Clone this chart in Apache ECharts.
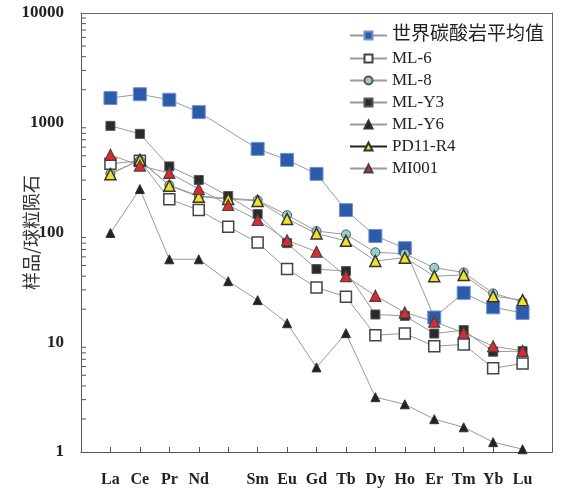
<!DOCTYPE html>
<html>
<head>
    <meta charset="UTF-8">
    <title>稀土元素配分图</title>
    <script src="https://cdn.jsdelivr.net/npm/echarts@6/dist/echarts.min.js"></script>
    <style>
        body { margin: 0; background: #fff; }
        #chart { width: 563px; height: 488px; }
    </style>
</head>
<body>
    <div id="chart"></div>
    <script>
    // 横轴元素（Pm 位置不标注）
    const axisLabels = ['La', 'Ce', 'Pr', 'Nd', '', 'Sm', 'Eu', 'Gd', 'Tb', 'Dy', 'Ho', 'Er', 'Tm', 'Yb', 'Lu'];
    const yTicks = [1, 10, 100, 1000, 10000];

    // 球粒陨石标准化值
    const worldAvg = [1680, 1820, 1620, 1250, null, 578, 459, 342, 160, 93, 72, 16.8, 28.2, 20.8, 18.5];
    const ml6   = [422, 450, 201, 160, 113, 81, 46.4, 31.6, 26, 11.6, 12.0, 9.2, 9.55, 5.8, 6.4];
    const ml8   = [345, 455, 270, 215, 205, 197, 144, 103, 96, 66, 64, 47.7, 43.3, 27.9, 23.4];
    const mlY3  = [937, 792, 400, 301, 215, 147, 80, 46.4, 44.5, 17.9, 17.4, 12.0, 12.9, 8.2, 8.3];
    const mlY6  = [99, 249, 57, 57, 36, 24.2, 14.9, 5.9, 12.1, 3.16, 2.72, 1.99, 1.68, 1.23, 1.06];
    const pd11  = [340, 459, 267, 212, 202, 194, 133, 98, 84, 55, 59, 40, 41, 26.3, 24.2];
    const mi001 = [510, 407, 349, 249, 178, 130, 85, 66.8, 40, 26.5, 18.7, 15.4, 12.2, 9.2, 8.35];

    const serif = "'Liberation Serif', 'DejaVu Serif', 'Noto Sans CJK SC', serif";
    const pad = arr => [null].concat(arr, [null]);

    function mkSeries(name, data, symbol, size, fill, border, bw) {
        return {
            name: name,
            type: 'line',
            data: pad(data),
            connectNulls: true,
            symbol: symbol,
            symbolSize: size,
            lineStyle: { color: '#9a9a9a', width: 1 },
            itemStyle: { color: fill, borderColor: border, borderWidth: bw },
            emphasis: { disabled: true },
            animation: false
        };
    }

    const chart = echarts.init(document.getElementById('chart'));
    const option = {
        backgroundColor: '#fff',
        animation: false,
        grid: { left: 81, right: 11, top: 13, bottom: 36, outerBoundsMode: 'none', containLabel: false },
        legend: {
            orient: 'vertical',
            left: 344,
            top: 21,
            itemWidth: 37,
            itemHeight: 10,
            itemGap: 5,
            textStyle: { fontFamily: serif, fontSize: 17, color: '#222' },
            data: [
                { name: '世界碳酸岩平均值', textStyle: { fontSize: 19 } },
                'ML-6', 'ML-8', 'ML-Y3', 'ML-Y6',
                { name: 'PD11-R4', lineStyle: { color: '#222', width: 2 } },
                'MI001'
            ]
        },
        xAxis: [{
            type: 'category',
            boundaryGap: false,
            data: pad(axisLabels).map(v => v === null ? '' : v),
            axisLine: { lineStyle: { color: '#555' } },
            axisTick: { inside: true, length: 5, interval: 0, lineStyle: { color: '#555' } },
            axisLabel: { interval: 0, margin: 20, fontFamily: serif, fontSize: 16, fontWeight: 'bold', color: '#222' },
            splitLine: { show: false }
        }, {
            // 上边框
            type: 'category',
            position: 'top',
            boundaryGap: false,
            data: pad(axisLabels).map(v => v === null ? '' : v),
            axisLine: { show: true, onZero: false, lineStyle: { color: '#666' } },
            axisTick: { show: false },
            axisLabel: { show: false }
        }],
        yAxis: [{
            type: 'log',
            logBase: 10,
            min: yTicks[0],
            max: yTicks[yTicks.length - 1],
            name: '样品/球粒陨石',
            nameLocation: 'middle',
            nameGap: 41,
            nameMoveOverlap: false,
            nameRotate: 90,
            nameTextStyle: { fontFamily: "'Noto Sans CJK SC'", fontSize: 18, color: '#333' },
            axisLine: { show: true, lineStyle: { color: '#555' } },
            axisTick: { inside: true, length: 7, lineStyle: { color: '#555' } },
            axisLabel: { margin: 17, fontFamily: serif, fontSize: 17, fontWeight: 'bold', color: '#222',
                formatter: v => String(v) },
            splitLine: { show: false }
        }, {
            // 右边框
            type: 'log',
            logBase: 10,
            position: 'right',
            min: yTicks[0],
            max: yTicks[yTicks.length - 1],
            axisLine: { show: true, onZero: false, lineStyle: { color: '#666' } },
            axisTick: { show: false },
            axisLabel: { show: false },
            splitLine: { show: false }
        }],
        series: [
            mkSeries('世界碳酸岩平均值', worldAvg, 'rect', 13, '#2c5bab', '#6f93d0', 1),
            mkSeries('ML-6', ml6, 'rect', 11, '#ffffff', '#444', 1.5),
            mkSeries('ML-8', ml8, 'circle', 9, '#93d1d1', '#555', 1),
            mkSeries('ML-Y3', mlY3, 'rect', 9, '#2a2a2a', '#555', 1),
            mkSeries('ML-Y6', mlY6, 'triangle', 9, '#222', '#333', 1),
            mkSeries('PD11-R4', pd11, 'triangle', 11, '#f2e41c', '#333', 1.5),
            mkSeries('MI001', mi001, 'triangle', 11, '#e5262a', '#444', 1.2)
        ]
    };
    chart.setOption(option);

    // 对数轴次刻度（2~9），位置由坐标轴换算
    const x0 = chart.convertToPixel({ xAxisIndex: 0 }, 0);
    const minor = [];
    for (let d = 0; d < yTicks.length - 1; d++) {
        for (let k = 2; k <= 9; k++) {
            const y = chart.convertToPixel({ yAxisIndex: 0 }, yTicks[d] * k);
            minor.push({
                type: 'line',
                shape: { x1: x0, y1: y, x2: x0 + 5, y2: y },
                style: { stroke: '#555', lineWidth: 1 }
            });
        }
    }
    chart.setOption({ graphic: minor });
    </script>
</body>
</html>
